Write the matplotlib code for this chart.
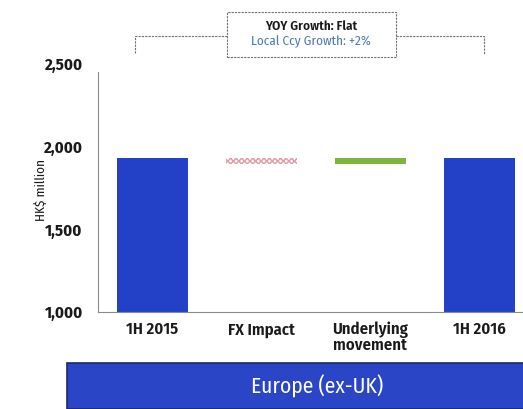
import matplotlib
matplotlib.use("Agg")
import matplotlib.pyplot as plt
from matplotlib.patches import Rectangle
from matplotlib.lines import Line2D

# Waterfall: 1H 2015 -> FX impact -> underlying movement -> 1H 2016 (HK$ million)
categories = ["1H 2015", "FX Impact", "Underlying\nmovement", "1H 2016"]
start_value = 1930
fx_impact = -35
underlying_movement = 35
end_value = 1930
y_ticks = [1000, 1500, 2000, 2500]
y_tick_labels = ["1,000", "1,500", "2,000", "2,500"]

plt.rcParams["font.family"] = ["Fira Sans Condensed", "DejaVu Sans"]

W, H = 523, 409
fig = plt.figure(figsize=(W / 100, H / 100), dpi=100)
fig.patch.set_facecolor("white")


def fx(x):
    return x / W


def fy(y):
    return 1 - y / H


ax_left, ax_bottom, ax_top = 98, 312, 64
ax = fig.add_axes([fx(ax_left), fy(ax_bottom), (W - ax_left) / W, (ax_bottom - ax_top) / H])
ax.set_xlim(-0.497, 3.4)
ax.set_ylim(1000, 2500)

bar_blue = "#2341c6"
width = 0.65
base = 1000

ax.bar(0, start_value - base, bottom=base, width=width, color=bar_blue, zorder=2)
fx_low = start_value + fx_impact
ax.bar(1, -fx_impact, bottom=fx_low, width=width, facecolor="white",
       edgecolor="#e39aa8", hatch="xxxxxx", linewidth=0, zorder=2)
ax.bar(2, underlying_movement, bottom=fx_low, width=width, color="#7db43c", zorder=2)
ax.bar(3, end_value - base, bottom=base, width=width, color=bar_blue, zorder=2)

for s in ["top", "right"]:
    ax.spines[s].set_visible(False)
ax.spines["left"].set_color("#8c8c8c")
ax.spines["bottom"].set_color("#8c8c8c")
ax.spines["left"].set_bounds(1000, 2450)
ax.set_yticks(y_ticks)
ax.set_yticklabels(y_tick_labels, fontsize=12, fontweight="bold", color="#1a1a1a")
ax.set_xticks(range(len(categories)))
ax.set_xticklabels(categories, fontsize=12, fontweight="semibold", color="#1a1a1a",
                   linespacing=0.95, va="top")
ax.tick_params(axis="both", length=0, pad=11)
ax.tick_params(axis="x", pad=7)
ax.set_ylabel("HK$ million", fontsize=9.5, color="#1a1a1a", labelpad=0)
ax.yaxis.set_label_coords(-0.118, 0.49)

# dashed bracket spanning the two period bars
dash = dict(color="#707070", linewidth=0.8, linestyle=(0, (2, 1)))
fig.add_artist(Line2D([fx(135), fx(135), fx(227)], [fy(53), fy(36), fy(36)], **dash))
fig.add_artist(Line2D([fx(396), fx(484), fx(484)], [fy(36), fy(36), fy(54)], **dash))
fig.add_artist(Rectangle((fx(227), fy(57)), fx(396) - fx(227), fy(12) - fy(57),
                         facecolor="white", edgecolor="#707070", linewidth=0.8,
                         linestyle=(0, (2, 1))))
fig.text(fx(311), fy(26), "YOY Growth: Flat", ha="center", va="center",
         fontsize=9.5, fontweight="semibold", color="#1a1a1a")
fig.text(fx(311), fy(42), "Local Ccy Growth: +2%", ha="center", va="center",
         fontsize=9.5, color="#4a78b8")

# region banner
fig.add_artist(Rectangle((fx(67), fy(409)), fx(W + 5) - fx(67), fy(363) - fy(409),
                         facecolor="#2a45c6", edgecolor="#1b2a66", linewidth=1.2))
fig.text(fx(317), fy(386), "Europe (ex-UK)", ha="center", va="center",
         fontsize=15.5, color="white")

fig.savefig("out.png", dpi=100)
